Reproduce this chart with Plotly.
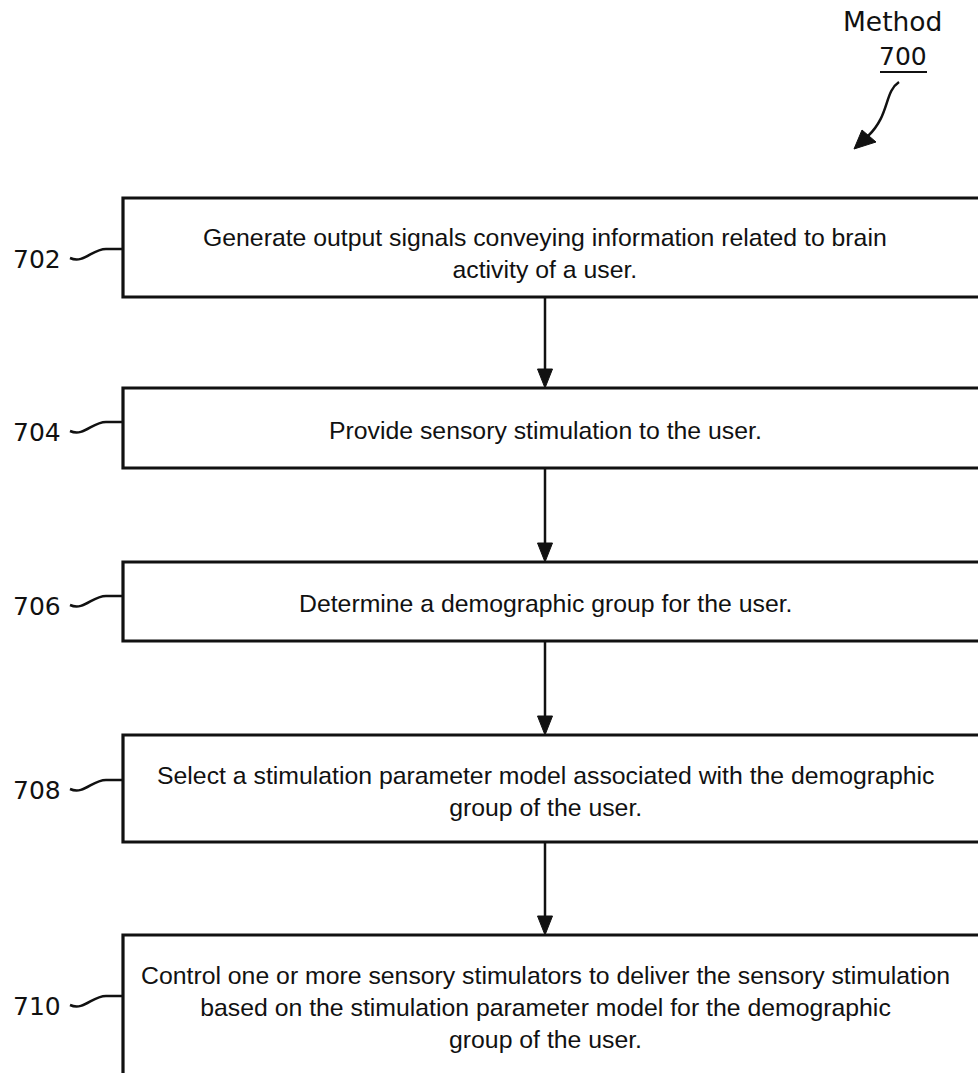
import plotly.graph_objects as go

# ---- data ----
step_ids = ["702", "704", "706", "708", "710"]
step_texts = [
    "Generate output signals conveying information related to brain<br>activity of a user.",
    "Provide sensory stimulation to the user.",
    "Determine a demographic group for the user.",
    "Select a stimulation parameter model associated with the demographic<br>group of the user.",
    "Control one or more sensory stimulators to deliver the sensory stimulation<br>based on the stimulation parameter model for the demographic<br>group of the user.",
]
method_title = "Method"
method_id = "700"

# ---- layout constants (pixel coordinate system) ----
W, H = 978, 1073
box_left, box_right = 123, 995
box_tops = [198, 388, 562, 735, 935]
box_bottoms = [297, 468, 641, 842, 1110]
text_y = [253, 430, 603, 791, 1007]
label_y = [259, 432, 606, 790, 1006]
arrow_x = 545
text_x = 545

fig = go.Figure()
fig.add_trace(go.Scatter(x=[0, W], y=[0, H], mode="markers",
                         marker=dict(opacity=0), hoverinfo="skip", showlegend=False))

shapes = []
annotations = []
ink = "#111111"

for i, (sid, txt) in enumerate(zip(step_ids, step_texts)):
    top, bot = box_tops[i], box_bottoms[i]
    shapes.append(dict(type="rect", xref="x", yref="y", x0=box_left, x1=box_right,
                       y0=top, y1=bot, line=dict(color=ink, width=3.2), fillcolor="rgba(0,0,0,0)"))
    annotations.append(dict(x=text_x, y=text_y[i], xref="x", yref="y", text=txt,
                            showarrow=False, xanchor="center", yanchor="middle", align="center",
                            font=dict(family="Liberation Sans, Arial", size=24.8, color=ink)))
    ly = label_y[i]
    annotations.append(dict(x=63, y=ly, xref="x", yref="y", text=sid, showarrow=False,
                            xanchor="right", yanchor="middle",
                            font=dict(family="DejaVu Sans", size=25, color=ink)))
    ey = ly - 10
    path = f"M 70,{ly-1} C 84,{ly+5} 92,{ey} 106,{ey} L {box_left},{ey}"
    shapes.append(dict(type="path", xref="x", yref="y", path=path,
                       line=dict(color=ink, width=2.5)))
    if i < len(step_ids) - 1:
        nxt = box_tops[i + 1]
        shapes.append(dict(type="line", xref="x", yref="y", x0=arrow_x, x1=arrow_x,
                           y0=bot, y1=nxt - 14, line=dict(color=ink, width=2.5)))
        head = f"M {arrow_x-7.5},{nxt-19} L {arrow_x+7.5},{nxt-19} L {arrow_x},{nxt} Z"
        shapes.append(dict(type="path", xref="x", yref="y", path=head,
                           line=dict(color=ink, width=1), fillcolor=ink))

# method label
annotations.append(dict(x=892, y=21, xref="x", yref="y", text=method_title, showarrow=False,
                        xanchor="center", yanchor="middle",
                        font=dict(family="DejaVu Sans", size=26.5, color=ink)))
annotations.append(dict(x=903, y=56, xref="x", yref="y", text=method_id, showarrow=False,
                        xanchor="center", yanchor="middle",
                        font=dict(family="DejaVu Sans", size=25, color=ink)))
shapes.append(dict(type="line", xref="x", yref="y", x0=880, x1=927, y0=72, y1=72,
                   line=dict(color=ink, width=2)))
shapes.append(dict(type="path", xref="x", yref="y",
                   path="M 899,82 C 884,92 890,115 868,136",
                   line=dict(color=ink, width=2.5)))
shapes.append(dict(type="path", xref="x", yref="y",
                   path="M 862,130 L 876,142 L 854,149 Z",
                   line=dict(color=ink, width=1), fillcolor=ink))

fig.update_layout(
    width=W, height=H, margin=dict(l=0, r=0, t=0, b=0),
    paper_bgcolor="white", plot_bgcolor="white",
    xaxis=dict(range=[0, W], visible=False, fixedrange=True),
    yaxis=dict(range=[H, 0], visible=False, fixedrange=True),
    shapes=shapes, annotations=annotations, showlegend=False,
)
fig.write_html("out.html", config={"displayModeBar": False},
               post_script="document.body.style.margin='0px';document.body.style.overflow='hidden';")
